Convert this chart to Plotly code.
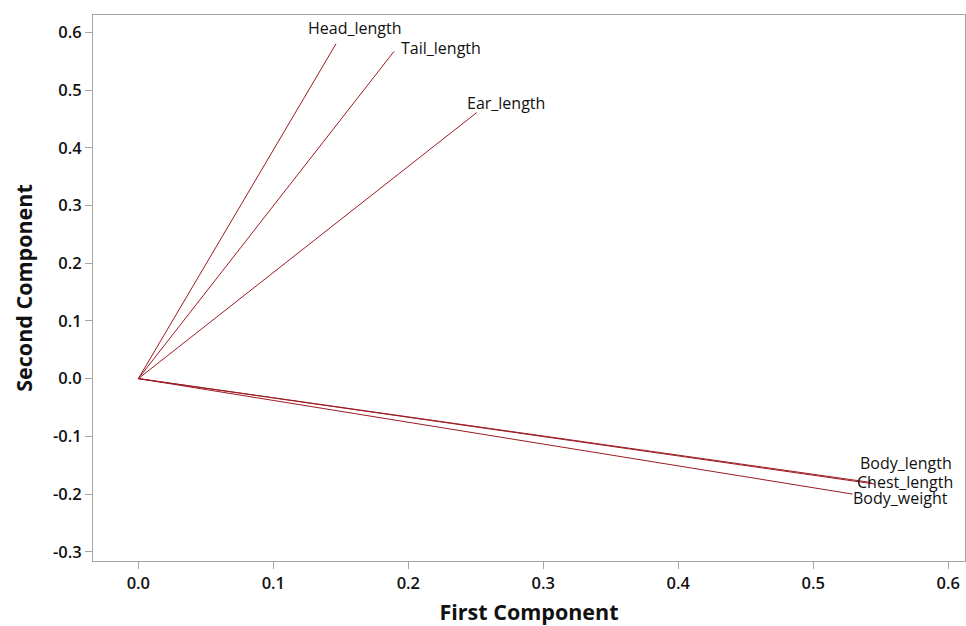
import plotly.graph_objects as go

variables = ["Head_length", "Tail_length", "Ear_length", "Body_length", "Chest_length", "Body_weight"]
pc1 = [0.1464, 0.1894, 0.2507, 0.5456, 0.5430, 0.5290]
pc2 = [0.580, 0.567, 0.461, -0.1827, -0.1800, -0.2000]

x_ticks = [0.0, 0.1, 0.2, 0.3, 0.4, 0.5, 0.6]
x_tick_labels = ["0.0", "0.1", "0.2", "0.3", "0.4", "0.5", "0.6"]
y_ticks = [-0.3, -0.2, -0.1, 0.0, 0.1, 0.2, 0.3, 0.4, 0.5, 0.6]
y_tick_labels = ["-0.3", "-0.2", "-0.1", "0.0", "0.1", "0.2", "0.3", "0.4", "0.5", "0.6"]

# label offsets in pixels (style only)
label_dx = [19, 47, 29, 31, 34, 48]
label_dy = [16, 3, 10, 21, 1, -4]

LINE = "#9B1B22"
GRID = "#A6A6A6"
FONT = "Open Sans"

fig = go.Figure()
for name, x, y in zip(variables, pc1, pc2):
    fig.add_trace(go.Scatter(x=[0, x], y=[0, y], mode="lines",
                             line=dict(color=LINE, width=1), showlegend=False,
                             hoverinfo="skip"))

for name, x, y, dx, dy in zip(variables, pc1, pc2, label_dx, label_dy):
    fig.add_annotation(x=x, y=y, text=name, showarrow=False, xshift=dx, yshift=dy,
                       font=dict(family=FONT, size=16, color="#111111"))

axis_common = dict(showline=True, linecolor=GRID, linewidth=1, mirror=True,
                   ticks="outside", ticklen=7, tickcolor=GRID, showgrid=False,
                   zeroline=False, automargin=False,
                   tickfont=dict(family=FONT, size=16.5, color="#111111", weight=600))

fig.update_xaxes(range=[-0.0336, 0.6124], tickvals=x_ticks, ticktext=x_tick_labels,
                 title=dict(text="First Component", standoff=14,
                            font=dict(family=FONT, size=21.5, color="#111111", weight=700)),
                 **axis_common)
fig.update_yaxes(range=[-0.316, 0.630], tickvals=y_ticks, ticktext=y_tick_labels,
                 title=dict(text="Second Component", standoff=14,
                            font=dict(family=FONT, size=21.5, color="#111111", weight=700)),
                 **axis_common)

fig.update_layout(width=966, height=626, margin=dict(l=93, r=1, t=15, b=65),
                  plot_bgcolor="white", paper_bgcolor="white")

fig.write_html("out.html", config={"displayModeBar": False},
               post_script="document.body.style.margin='0';document.body.style.overflow='hidden';")
